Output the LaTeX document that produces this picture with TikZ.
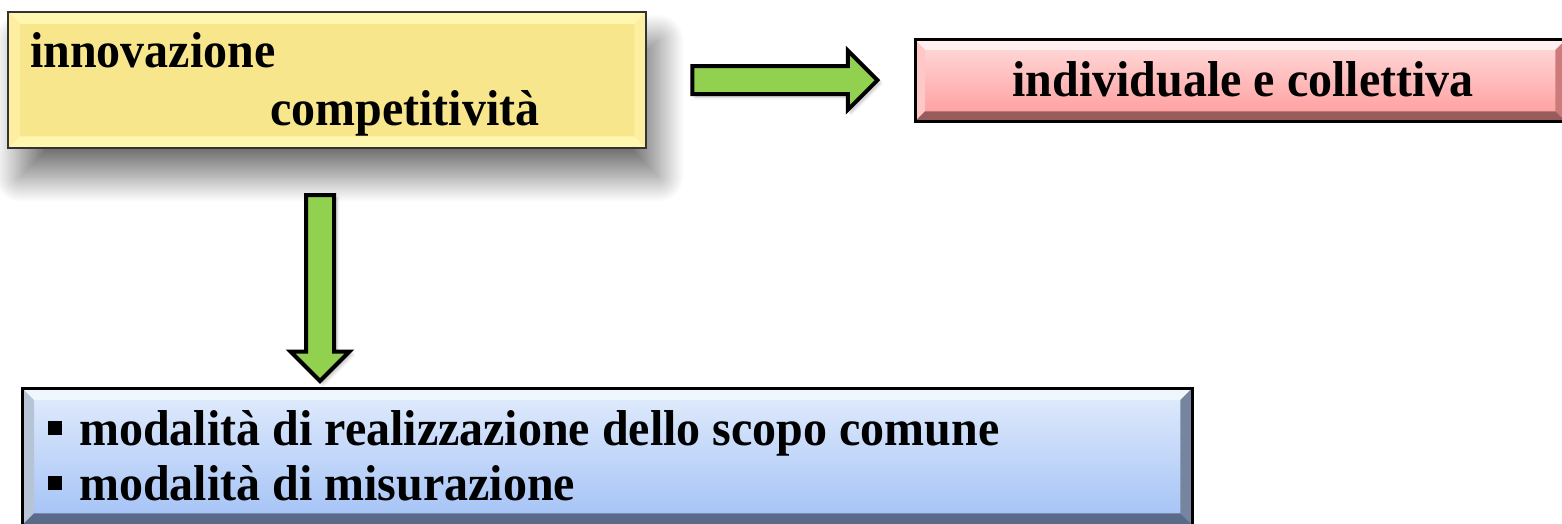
\documentclass[tikz,border=0pt]{standalone}
\usepackage{fontspec}
\setmainfont{Liberation Serif}
\usetikzlibrary{calc, positioning, shapes.arrows, shadows.blur}

\definecolor{innoyellow}{HTML}{F7E68C}
\definecolor{innolight}{HTML}{FFF7B0}
\definecolor{innoside}{HTML}{FCEFA0}
\definecolor{indtop}{HTML}{FFDCDC}
\definecolor{indbot}{HTML}{FF9A9A}
\definecolor{modtop}{HTML}{E2ECFC}
\definecolor{modbot}{HTML}{A2C1F6}
\definecolor{modright}{HTML}{76859F}
\definecolor{modbottom}{HTML}{5A6B8A}
\definecolor{arrowgreen}{HTML}{92D050}

% bevel round a box: node, width, top, left, right, bottom
\newcommand{\boxbevel}[6]{
  \fill[#3] (#1.north west) -- (#1.north east) -- ($(#1.north east)+(-#2,#2)$) -- ($(#1.north west)+(#2,#2)$) -- cycle;
  \fill[#4] (#1.north west) -- ($(#1.north west)+(#2,#2)$) -- ($(#1.south west)+(#2,-#2)$) -- (#1.south west) -- cycle;
  \fill[#5] (#1.north east) -- ($(#1.north east)+(-#2,#2)$) -- ($(#1.south east)+(-#2,-#2)$) -- (#1.south east) -- cycle;
  \fill[#6] (#1.south west) -- ($(#1.south west)+(#2,-#2)$) -- ($(#1.south east)+(-#2,-#2)$) -- (#1.south east) -- cycle;
}
\newcommand{\modbullet}{\rule[10pt]{14pt}{13pt}\hspace{17pt}}

\begin{document}
\begin{tikzpicture}[x=1pt, y=-1pt, node distance=44pt,
  font=\fontsize{48}{56}\selectfont\bfseries]
\tikzstyle{panel}=[rectangle, anchor=north west, inner sep=0pt]
\tikzstyle{rim}=[draw=black, line width=3pt]
\tikzstyle{txt}=[inner sep=0pt, anchor=base west, yscale=1.05]
\tikzstyle{bigarrow}=[single arrow, draw=black, line width=4pt, fill=arrowgreen,
  inner xsep=0pt, inner ysep=12pt, single arrow head extend=15.5pt,
  blur shadow={shadow xshift=3pt, shadow yshift=-3pt, shadow blur radius=3pt, shadow opacity=25}]

\useasboundingbox (0,0) rectangle (1562,524);

% innovazione
\node[panel, fill=innoyellow, minimum width=638pt, minimum height=136pt,
  blur shadow={shadow xshift=12pt, shadow yshift=-28pt, shadow blur radius=26pt,
    shadow blur steps=40, shadow opacity=55}]
  (inno) at (8,12) {};
\boxbevel{inno}{12}{innolight}{innoside}{innoside}{innolight}
\draw[draw=black!80, line width=2pt] (inno.north west) rectangle (inno.south east);
\node[txt] (inno_a) at (30,68) {innovazione};
\node[txt] (inno_b) at (270,125) {competitività};

% individuale
\node[bigarrow, minimum height=185pt, right=of inno] (arrH) {};
\node[panel, top color=indtop, bottom color=indbot, minimum width=650pt, minimum height=81pt]
  (indiv) at (915,40) {};
\boxbevel{indiv}{10}{white!55!indtop}{indtop!70!indbot}{indbot!80!black}{indbot!60!black}
\draw[rim] (indiv.north west) rectangle (indiv.south east);
\node[inner sep=0pt, anchor=base, yscale=1.05] (indiv_t) at (1243,97) {individuale e collettiva};

% modalita
\node[bigarrow, minimum height=186pt, rotate=-90] (arrV) at (320,281) {};
\node[panel, top color=modtop, bottom color=modbot, minimum width=1170pt, minimum height=137pt]
  (modal) at (22,388) {};
\boxbevel{modal}{12}{white!50!modtop}{modtop!60!modright}{modright}{modbottom}
\draw[rim] (modal.north west) rectangle (modal.south east);
\node[txt] (mod_a) at (48,445) {\modbullet modalità di realizzazione dello scopo comune};
\node[txt] (mod_b) at (48,500) {\modbullet modalità di misurazione};
\end{tikzpicture}
\end{document}
